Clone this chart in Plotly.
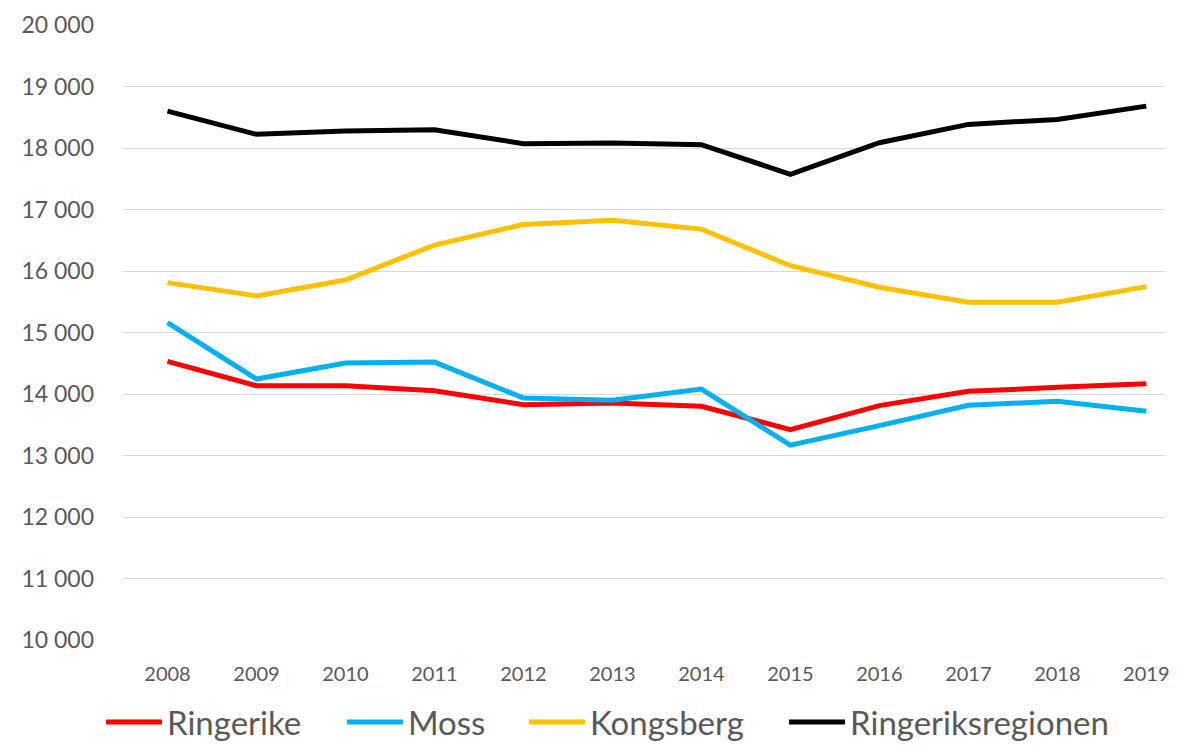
import plotly.graph_objects as go

years = ["2008", "2009", "2010", "2011", "2012", "2013", "2014", "2015", "2016", "2017", "2018", "2019"]
ringerike = [14530, 14135, 14135, 14054, 13827, 13854, 13800, 13422, 13811, 14043, 14108, 14168]
moss = [15162, 14243, 14503, 14519, 13935, 13897, 14081, 13168, 13486, 13816, 13881, 13719]
kongsberg = [15811, 15595, 15854, 16422, 16757, 16827, 16681, 16086, 15735, 15492, 15492, 15746]
regionen = [18600, 18222, 18276, 18297, 18070, 18081, 18054, 17573, 18086, 18384, 18465, 18681]

series = [
    ("Ringerike", ringerike, "#ff0000"),
    ("Moss", moss, "#00b0f0"),
    ("Kongsberg", kongsberg, "#ffc000"),
    ("Ringeriksregionen", regionen, "#000000"),
]
legend_ids = ["legend", "legend2", "legend3", "legend4"]
legend_x = [0.0801, 0.2876, 0.4444, 0.6684]

FONT = "Lato, Open Sans, Liberation Sans, sans-serif"
GREY = "#595959"

fig = go.Figure()
for (name, vals, col), lid in zip(series, legend_ids):
    fig.add_trace(go.Scatter(x=years, y=vals, name=name, mode="lines",
                             line=dict(color=col, width=5), legend=lid))

legend_common = dict(xref="container", xanchor="left",
                     yref="container", y=0.026, yanchor="middle",
                     font=dict(size=33, color=GREY, family=FONT),
                     itemwidth=56, bgcolor="rgba(0,0,0,0)", orientation="h")
legends = {lid: dict(legend_common, x=lx) for lid, lx in zip(legend_ids, legend_x)}

# page body adds an 8px offset; figure sized to fit the 1177x749 window
fig.update_layout(
    width=1161, height=733,
    margin=dict(l=115, r=0, t=17, b=101),
    plot_bgcolor="white", paper_bgcolor="white",
    separators=", ",
    font=dict(family=FONT, color=GREY),
    showlegend=True,
    xaxis=dict(type="category", range=[-0.5, 11.21], showgrid=False,
               tickfont=dict(size=20, color=GREY), ticks="",
               ticklabelstandoff=20, showline=False, zeroline=False),
    yaxis=dict(range=[10000, 20000], dtick=1000, tickformat=",d",
               gridcolor="#d9d9d9", gridwidth=1.3, zeroline=False,
               tickfont=dict(size=23, color=GREY), ticks="",
               ticklabelstandoff=28),
    **legends,
)

fig.write_html("out.html")
